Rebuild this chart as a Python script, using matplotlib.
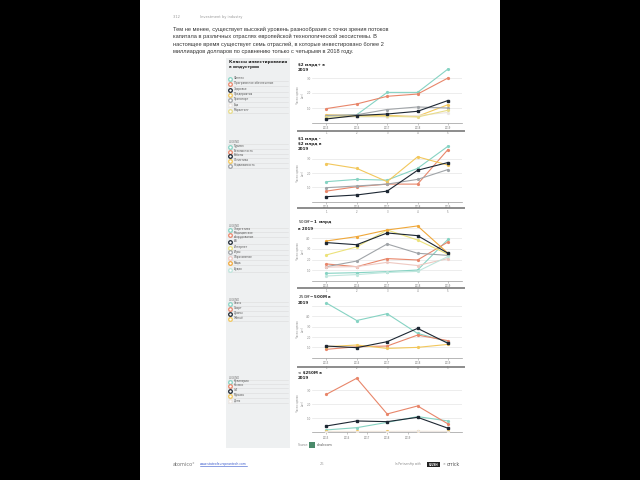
import matplotlib
matplotlib.use('Agg')
import matplotlib.pyplot as plt
from matplotlib.patches import Rectangle
from matplotlib.lines import Line2D

plt.rcParams['font.family'] = ['DejaVu Sans']

# ---------------- data ----------------
years = ['2015', '2016', '2017', '2018', '2019']

TEAL = '#86d3c3'; ORANGE = '#e8866a'; NAVY = '#1d2733'; YELLOW = '#f2c75c'
GRAY = '#a0a4a8'; KHAKI = '#e8dc8a'; PALE = '#ece6e2'; GOLD = '#f0a83a'
LTEAL = '#bfe6dd'; LYELLOW = '#ece27a'; PINK = '#eec9c2'

c1_labels = ["Финтех", "Программное обеспечение", "Здоровье", "Предприятия",
             "Транспорт", "Еда", "Маркетинг"]
c1_colors = [TEAL, ORANGE, NAVY, YELLOW, GRAY, PALE, KHAKI]
c1_values = [[0.45, 0.55, 2.04, 2.04, 3.60],
             [0.96, 1.27, 1.78, 1.93, 3.00],
             [0.27, 0.50, 0.60, 0.78, 1.50],
             [0.55, 0.50, 0.50, 0.45, 1.22],
             [0.50, 0.55, 0.90, 1.07, 1.00],
             [0.35, 0.40, 0.40, 0.50, 0.70],
             [0.40, 0.45, 0.45, 0.40, 0.85]]

c2_labels = ["Туризм", "Безопасность", "Роботы", "Логистика", "Недвижимость"]
c2_colors = [TEAL, ORANGE, NAVY, YELLOW, GRAY]
c2_values = [[1.40, 1.56, 1.51, 2.33, 3.88],
             [0.74, 1.05, 1.23, 1.23, 3.65],
             [0.35, 0.47, 0.74, 2.20, 2.74],
             [2.67, 2.33, 1.40, 3.14, 2.56],
             [0.98, 1.10, 1.23, 1.56, 2.25]]

c3_labels = ["Энергетика", "Медицинское\nоборудование", "AR", "Интернет", "Игры",
             "Образование", "Мода", "Аудио"]
c3_colors = [TEAL, ORANGE, NAVY, LYELLOW, GRAY, PINK, GOLD, LTEAL]
c3_values = [[0.72, 0.78, 0.88, 1.03, 3.90],
             [1.60, 1.34, 2.10, 1.97, 3.66],
             [3.60, 3.40, 4.50, 4.25, 2.60],
             [2.44, 3.20, 4.78, 3.84, 2.50],
             [1.34, 1.87, 3.47, 2.60, 2.40],
             [1.30, 1.35, 1.75, 1.45, 2.10],
             [3.75, 4.16, 4.78, 5.16, 2.60],
             [0.47, 0.60, 0.80, 0.90, 2.30]]

c4_labels = ["Связь", "Спорт", "Дроны", "Жильё"]
c4_colors = [TEAL, ORANGE, NAVY, YELLOW]
c4_values = [[5.30, 3.60, 4.26, 2.35, 1.55],
             [0.81, 1.06, 1.13, 2.19, 1.65],
             [1.13, 0.97, 1.55, 2.84, 1.39],
             [1.06, 1.23, 0.90, 1.00, 1.29]]

c5_labels = ["Кулинария", "Космос", "IoT", "Музыка", "Дети"]
c5_colors = [TEAL, ORANGE, NAVY, YELLOW, PALE]
c5_values = [[0.17, 0.33, 0.71, 1.12, 0.81],
             [2.71, 3.86, 1.31, 1.88, 0.60],
             [0.45, 0.81, 0.76, 1.07, 0.29],
             [0.10, 0.10, 0.10, 0.10, 0.10],
             [0.05, 0.05, 0.05, 0.06, 0.05]]

titles = ["$2 млрд+ в\n2019", "$1 млрд -\n$2 млрд в\n2019", "$500M - $1 млрд\nв 2019",
          "$250M - $500M в\n2019", "< $250M в\n2019"]

paragraph = ("Тем не менее, существует высокий уровень разнообразия с точки зрения потоков\n"
             "капитала в различных отраслях европейской технологической экосистемы. В\n"
             "настоящее время существует семь отраслей, в которые инвестировано более 2\n"
             "миллиардов долларов по сравнению только с четырьмя в 2018 году.")

# ---------------- layout ----------------
W, H = 640, 480
fig = plt.figure(figsize=(6.4, 4.8), dpi=100)
fig.patch.set_facecolor('black')

def fx(x): return x / W
def fy(y): return 1 - y / H

def rect(x0, y0, x1, y1, color, z=0):
    fig.add_artist(Rectangle((fx(x0), fy(y1)), (x1 - x0) / W, (y1 - y0) / H,
                             transform=fig.transFigure, facecolor=color,
                             edgecolor='none', zorder=z))

def hline(x0, x1, y, color, lw):
    fig.add_artist(Line2D([fx(x0), fx(x1)], [fy(y), fy(y)], transform=fig.transFigure,
                          color=color, lw=lw, zorder=2))

def text(x, y, s, **kw):
    fig.text(fx(x), fy(y), s, **kw)

rect(140, 0, 500, 480, 'white', 0)
rect(226, 58, 290, 448, '#eef0f1', 1)

# header
text(173, 17, "3.12", fontsize=2.6, color='#999999', va='center')
text(200, 17, "Investment by industry", fontsize=2.6, color='#999999', va='center')
text(173, 27, paragraph, fontsize=4.1, color='#333333', va='top', linespacing=1.5,
     family=['Liberation Sans', 'DejaVu Sans'])

# sidebar title
text(229, 60, "Классы инвестирования\nв индустрии", fontsize=3.0, fontweight='bold',
     color='#222222', va='top', linespacing=1.3)

charts = [
    dict(vals=c1_values, cols=c1_colors, labs=c1_labels, base=123.0, unit=15.0, ymax=3.7,
         ticks=[1, 2, 3], ty=63, bar=131, hdr=None, ly=[79, 84, 89.5, 94.5, 100, 105, 110.5]),
    dict(vals=c2_values, cols=c2_colors, labs=c2_labels, base=201.7, unit=14.3, ymax=4.0,
         ticks=[1, 2, 3], ty=137, bar=208, hdr=142, ly=[147, 151.5, 156, 160.5, 165.5]),
    dict(vals=c3_values, cols=c3_colors, labs=c3_labels, base=281.0, unit=10.67, ymax=5.6,
         ticks=[1, 2, 3, 4, 5], ty=218, bar=288, hdr=226,
         ly=[229.5, 235, 242, 247.5, 252.5, 258, 263, 270]),
    dict(vals=c4_values, cols=c4_colors, labs=c4_labels, base=357.7, unit=10.33, ymax=5.6,
         ticks=[1, 2, 3, 4, 5], ty=293, bar=367, hdr=300, ly=[304, 309, 314, 319]),
    dict(vals=c5_values, cols=c5_colors, labs=c5_labels, base=432.3, unit=14.0, ymax=4.1,
         ticks=[1, 2, 3], ty=371, bar=None, hdr=378, ly=[382, 386, 391, 395.5, 401]),
]

AX_L, AX_R = 312, 462
x_pos = list(range(len(years)))

for i, c in enumerate(charts):
    top = c['base'] - c['ymax'] * c['unit']
    ax = fig.add_axes([fx(AX_L), fy(c['base']), (AX_R - AX_L) / W, (c['base'] - top) / H])
    ax.set_facecolor('none')
    ax.set_zorder(3)
    ax.set_xlim(-0.47, 4.46)
    ax.set_ylim(0, c['ymax'])
    for sp in ['top', 'right', 'left']:
        ax.spines[sp].set_visible(False)
    ax.spines['bottom'].set_color('#9a9a9a')
    ax.spines['bottom'].set_linewidth(0.5)
    ax.set_yticks(c['ticks'])
    ax.set_yticklabels([f"{t},0" if t < 5 else "" for t in c['ticks']], fontsize=2.0,
                       color='#888888')
    ax.tick_params(axis='y', length=0, pad=1)
    ax.grid(axis='y', color='#e6e6e6', lw=0.5)
    ax.set_axisbelow(True)
    if i < 4:
        ax.set_xticks(x_pos)
        ax.set_xticklabels([f"{y}\n{k+1}" for k, y in enumerate(years)], fontsize=1.8,
                           color='#777777', linespacing=1.2)
    else:
        ax.set_xticks([0, 0.67, 1.34, 2.01, 2.68])
        ax.set_xticklabels(years, fontsize=1.8, color='#777777')
    ax.tick_params(axis='x', length=1.5, width=0.4, color='#999999', pad=1)
    ax.set_ylabel("Число сделок\n(шт)", fontsize=1.8, color='#888888', labelpad=1.5,
                  linespacing=1.1)
    for vals, col in zip(c['vals'], c['cols']):
        mk = 's' if col == NAVY else 'o'
        ax.plot(x_pos, vals, color=col, lw=0.8, marker=mk, ms=1.6 if col == NAVY else 1.3,
                mfc=col, mec=col, zorder=4 if col == NAVY else 3)
    # title
    text(298, c['ty'], titles[i], fontsize=2.9, fontweight='bold', color='#222222',
         va='top', linespacing=1.3)
    if c['bar'] is not None:
        hline(298, 464, c['bar'], '#8c8c8c', 1.4)
    # legend in sidebar
    if c['hdr'] is not None:
        text(229, c['hdr'], "LEGEND", fontsize=2.0, color='#777777', va='center')
        hline(228, 288, c['hdr'] + 1.8, '#dddddd', 0.4)
    for lab, col, yy in zip(c['labs'], c['cols'], c['ly']):
        fig.add_artist(Line2D([fx(230)], [fy(yy)], transform=fig.transFigure, marker='o',
                              ms=2.6, mfc='white', mec=col, mew=0.9, zorder=3))
        text(233.5, yy - 0.6, lab, fontsize=2.0, color='#555555', va='center',
             linespacing=1.1)
        hline(228, 288, yy + 2.2, '#dcdcdc', 0.4)

# source
text(298, 445, "Source:", fontsize=2.2, color='#888888', va='center')
rect(309, 442, 315, 448, '#4a8a6a', 3)
text(317, 445, "dealroom", fontsize=2.4, color='#555555', va='center')

# footer
text(173, 464, "atomico°", fontsize=3.6, color='#777777', va='center')
text(200, 464, "www.stateofeuropeantech.com", fontsize=2.2, color='#3355cc', va='center')
hline(200, 247, 466, '#3355cc', 0.4)
text(320, 464, "26", fontsize=2.6, color='#999999', va='center')
text(395, 464, "In Partnership with", fontsize=2.0, color='#888888', va='center')
rect(427, 462, 440, 467, '#222222', 3)
text(433.5, 464.5, "SLUSH", fontsize=1.9, color='white', va='center', ha='center',
     fontweight='bold')
text(442.5, 464.5, "×", fontsize=2.4, color='#777777', va='center')
text(447, 464, "orrick", fontsize=3.4, color='#555555', va='center')

fig.savefig('out.png', dpi=100, facecolor=fig.get_facecolor())
